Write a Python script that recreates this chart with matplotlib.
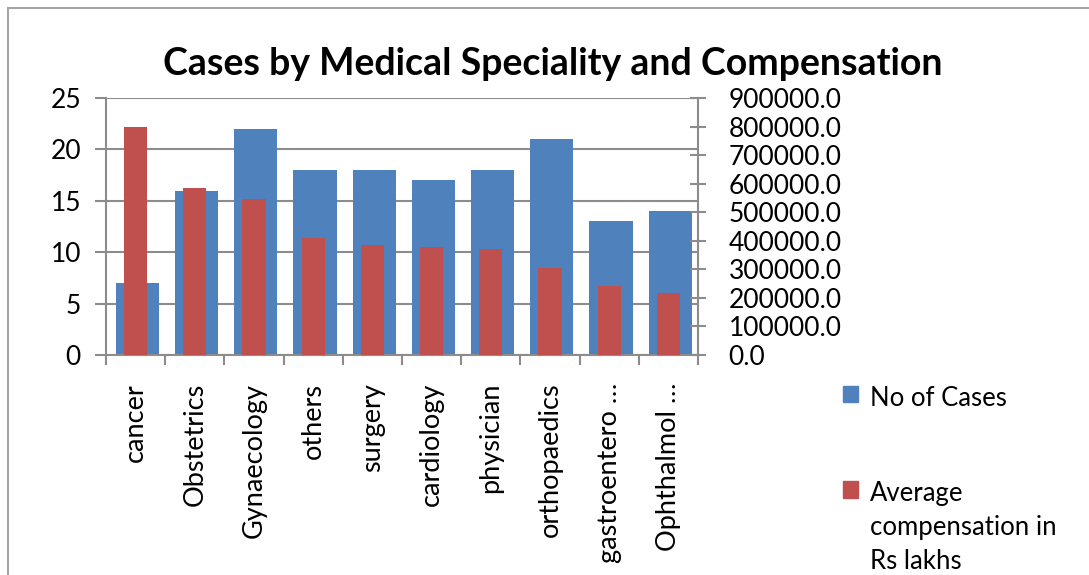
import matplotlib.pyplot as plt
from matplotlib.patches import Rectangle, Patch
import numpy as np

plt.rcParams['font.family'] = ['Lato', 'DejaVu Sans']

specialities = ['cancer', 'Obstetrics', 'Gynaecology', 'others', 'surgery', 'cardiology',
                'physician', 'orthopaedics', 'gastroentero \u2026', 'Ophthalmol \u2026']
no_of_cases = [7, 16, 22, 18, 18, 17, 18, 21, 13, 14]
avg_compensation = [800000, 585000, 547000, 411000, 386000, 379000, 370000, 305000, 241000, 218000]

blue = '#4F81BD'
red = '#C0504D'
grey = '#8c8c8c'

fig = plt.figure(figsize=(10.89, 5.75), dpi=100)
ax = fig.add_axes([0.0973, 0.3826, 0.5437, 0.447])
ax2 = ax.twinx()

x = np.arange(len(specialities))
b1 = ax.bar(x + 0.03, no_of_cases, width=0.73, color=blue, zorder=2)
b2 = ax2.bar(x, avg_compensation, width=0.39, color=red, zorder=2)

ax.set_xlim(-0.5, 9.5)
ax.set_ylim(0, 25)
ax2.set_ylim(0, 900000)
ax.set_yticks(range(0, 26, 5))
ax2.set_yticks(range(0, 900001, 100000))
ax2.set_yticklabels(['%.1f' % v for v in range(0, 900001, 100000)])

ax.set_xticks(x)
ax.set_xticklabels(specialities, rotation=90, va='top', ha='center')
ax.set_xticks(np.arange(-0.5, 10, 1), minor=True)
ax.tick_params(axis='x', which='major', length=0, pad=20, labelsize=19.5)
ax.tick_params(axis='x', which='minor', length=7, width=1.5, color=grey, direction='out')
ax.tick_params(axis='y', length=8, width=1.5, color=grey, direction='out', pad=10, labelsize=19)
ax2.tick_params(axis='y', length=12, width=1.5, color=grey, direction='inout', pad=16, labelsize=19)

ax.set_axisbelow(True)
ax.grid(axis='y', color=grey, linewidth=1.5)
for s in ['top', 'right']:
    ax.spines[s].set_visible(False)
ax2.spines['top'].set_visible(False)
ax2.spines['left'].set_visible(False)
ax.spines['left'].set_color(grey)
ax.spines['bottom'].set_color(grey)
ax2.spines['right'].set_color(grey)
ax.spines['left'].set_linewidth(1.5)
ax.spines['bottom'].set_linewidth(1.5)
ax2.spines['right'].set_linewidth(1.5)
ax2.spines['bottom'].set_visible(False)

fig.suptitle('Cases by Medical Speciality and Compensation', x=0.508, y=0.918,
             fontsize=27, fontweight='bold')

leg = fig.legend([Patch(color=blue), Patch(color=red)],
                 ['No of Cases', 'Average\ncompensation in\nRs lakhs'],
                 loc='upper left', bbox_to_anchor=(0.774, 0.329), frameon=False,
                 fontsize=18.5, handlelength=0.6, handleheight=0.6, handletextpad=0.45,
                 labelspacing=2.75, borderpad=0, borderaxespad=0)
for t in leg.get_texts():
    t.set_linespacing(1.45)
# put the square beside the first line of each label
for col in leg._legend_handle_box.get_children():
    for item in col.get_children():
        item.align = 'top'

fig.add_artist(Rectangle((8 / 1089, -0.1), 1.5, 1.1 - 8 / 575, transform=fig.transFigure,
                         fill=False, edgecolor='#a6a6a6', linewidth=1.5))

plt.savefig('out.png', dpi=100)
